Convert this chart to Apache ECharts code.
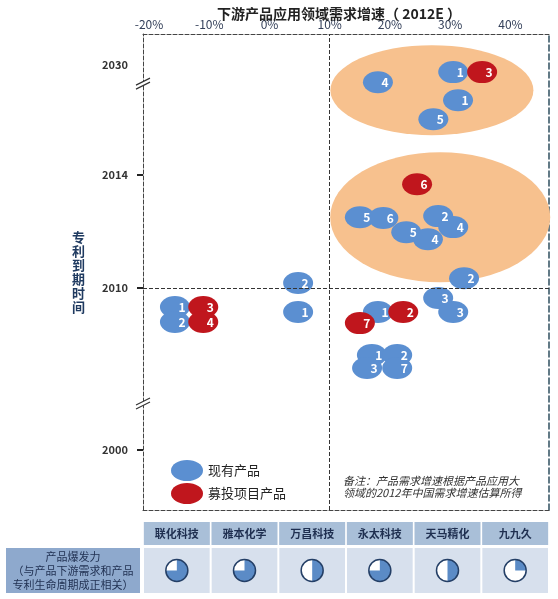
<!DOCTYPE html>
<html><head><meta charset="utf-8">
<script src="https://cdn.jsdelivr.net/npm/echarts@6/dist/echarts.min.js"></script>
<style>html,body{margin:0;padding:0;background:#fff}#c{width:558px;height:599px}</style>
</head><body><div id="c"></div>
<script>
// ---- data ----
const xTickValues = [-20, -10, 0, 10, 20, 30, 40];
const yTickValues = [-5.73, 0, 4, 7.9];           // plot level of each year label
const yTickLabels = ['2000', '2010', '2014', '2030'];
const yBreaks = [7.26, -4.07];
// [demand growth %, patent expiry level, product no.]
const existing = [
  [18.0, 7.29, '4'], [30.5, 7.65, '1'], [31.3, 6.65, '1'], [27.2, 5.98, '5'],
  [15.0, 2.51, '5'], [18.9, 2.48, '6'], [28.0, 2.55, '2'], [30.5, 2.16, '4'],
  [22.7, 1.98, '5'], [26.3, 1.73, '4'], [32.3, 0.35, '2'],
  [4.75, 0.18, '2'], [4.75, -0.85, '1'],
  [-15.7, -0.67, '1'], [-15.7, -1.20, '2'],
  [28.0, -0.35, '3'], [30.5, -0.85, '3'], [18.0, -0.85, '1'],
  [17.0, -2.37, '1'], [21.2, -2.37, '2'], [16.2, -2.83, '3'], [21.2, -2.83, '7']
];
const ipo = [
  [35.3, 7.65, '3'], [24.5, 3.68, '6'], [-11.0, -0.67, '3'], [-11.0, -1.20, '4'],
  [22.2, -0.85, '2'], [15.0, -1.24, '7']
];
const zoneTop = [[26.96, 7.01]];
const zoneBottom = [[28.34, 2.51]];
const companies = ['联化科技', '雅本化学', '万昌科技', '永太科技', '天马精化', '九九久'];
const burstPower = [0.75, 0.75, 0.5, 0.75, 0.5, 0.25];
const rowLabel = ['产品爆发力', '（与产品下游需求和产品', '专利生命周期成正相关）'];

// ---- chart ----
const chart = echarts.init(document.getElementById('c'));
const bubbleLabel = {
  show: true, formatter: p => p.value[2], color: '#fff', fontSize: 12,
  fontWeight: 'bold', offset: [7, 0], position: 'inside'
};
const dashed = c => ({ show: true, onZero: false, lineStyle: { color: c, type: 'dashed', width: 1 } });
const XMIN = -21, XMAX = 46.4, YMIN = -7.86, YMAX = 9.0;
const ELLIPSE = 'path://M50,0A50,50,0,1,1,50,100A50,50,0,1,1,50,0Z';

chart.setOption({
  backgroundColor: '#fff',
  textStyle: { fontFamily: 'Noto Sans CJK SC, Noto Sans, sans-serif' },
  animation: false,
  title: {
    text: '下游产品应用领域需求增速（ 2012E ）', left: 212, top: 2,
    textStyle: { fontSize: 14, fontWeight: 'bold', color: '#222' }
  },
  legend: {
    data: ['现有产品', '募投项目产品'], orient: 'vertical', left: 166, top: 455,
    itemWidth: 32, itemHeight: 21, itemGap: 2, icon: ELLIPSE, symbolKeepAspect: false,
    textStyle: { fontSize: 13, color: '#222' }
  },
  graphic: [{
    type: 'text', left: 343, top: 475,
    style: {
      text: '备注：产品需求增速根据产品应用大\n领域的2012年中国需求增速估算所得',
      fontSize: 11, fontStyle: 'italic', fill: '#333', lineHeight: 12,
      fontFamily: 'Noto Sans CJK SC'
    }
  }],
  grid: [
    { left: 143, right: 9, top: 34, bottom: 89 },
    { left: 143, right: 9, top: 548, bottom: 6 }
  ],
  xAxis: [
    {
      type: 'value', position: 'top', min: XMIN, max: XMAX, gridIndex: 0,
      axisLine: dashed('#444'), axisTick: { show: false }, splitLine: { show: false },
      axisLabel: { customValues: xTickValues, formatter: '{value}%', margin: 4, fontSize: 12, color: '#34405a' }
    },
    {
      type: 'value', position: 'bottom', min: XMIN, max: XMAX, gridIndex: 0,
      axisLine: dashed('#444'), axisTick: { show: false }, splitLine: { show: false },
      axisLabel: { show: false }
    },
    {
      type: 'category', gridIndex: 1, position: 'top', data: companies,
      axisLine: { show: false }, axisTick: { show: false }, splitLine: { show: false },
      axisLabel: {
        margin: 3, fontSize: 11, fontWeight: 'bold', color: '#1f2f50',
        backgroundColor: '#a9bfd8', width: 66, height: 23, lineHeight: 23, align: 'center'
      }
    }
  ],
  yAxis: [
    {
      type: 'value', min: YMIN, max: YMAX, gridIndex: 0,
      name: '专\n利\n到\n期\n时\n间', nameLocation: 'middle', nameGap: 58, nameRotate: 0,
      nameTextStyle: { fontSize: 13, fontWeight: 'bold', color: '#1f3a60', lineHeight: 14, align: 'right', padding: [12, 0, 0, 0] },
      axisLine: dashed('#444'), splitLine: { show: false },
      axisTick: { show: true, customValues: [-5.73, 0, 4], length: 6, lineStyle: { color: '#222', width: 2 } },
      axisLabel: {
        customValues: yTickValues, margin: 15, fontSize: 11, fontWeight: 'bold', color: '#333',
        formatter: v => yTickLabels[yTickValues.indexOf(v)]
      }
    },
    {
      type: 'value', position: 'right', min: YMIN, max: YMAX, gridIndex: 0,
      axisLine: { show: true, onZero: false, lineStyle: { color: '#2f4f5f', type: 'dashed', width: 1.5 } },
      axisTick: { show: false }, axisLabel: { show: false }, splitLine: { show: false }
    },
    {
      type: 'category', gridIndex: 1, data: [rowLabel.join('\n')],
      axisLine: { show: false }, axisTick: { show: false }, splitLine: { show: false },
      axisLabel: {
        margin: 3, backgroundColor: '#8ea9cd', padding: [2, 0, 1, 0],
        formatter: () => rowLabel.map(s => '{t|' + s + '}').join('\n'),
        rich: { t: { width: 134, align: 'center', lineHeight: 14, fontSize: 11, color: '#1f2f50' } }
      }
    }
  ],
  series: [
    {
      type: 'scatter', name: 'zoneTop', data: zoneTop, symbolSize: [203, 90], silent: true, z: 1,
      itemStyle: { color: '#f7c18e', opacity: 1 }, xAxisIndex: 0, yAxisIndex: 0
    },
    {
      type: 'scatter', name: 'zoneBottom', data: zoneBottom, symbolSize: [220, 130], silent: true, z: 1,
      itemStyle: { color: '#f7c18e', opacity: 1 }, xAxisIndex: 0, yAxisIndex: 0
    },
    {
      type: 'scatter', name: '现有产品', data: existing, symbolSize: [30, 22], z: 3,
      itemStyle: { color: '#5b8fd1', opacity: 1 }, label: bubbleLabel, xAxisIndex: 0, yAxisIndex: 0,
      markLine: {
        silent: true, symbol: 'none', label: { show: false },
        lineStyle: { color: '#333', type: 'dashed', width: 1 },
        data: [{ yAxis: 0 }, { xAxis: 10 }]
      }
    },
    {
      type: 'scatter', name: '募投项目产品', data: ipo, symbolSize: [30, 22], z: 4,
      itemStyle: { color: '#c0161d', opacity: 1 }, label: bubbleLabel, xAxisIndex: 0, yAxisIndex: 0
    },
    {
      type: 'custom', name: 'breaks', xAxisIndex: 0, yAxisIndex: 0, z: 5, silent: true,
      data: yBreaks.map(y => [XMIN, y]),
      renderItem: (params, api) => {
        const p = api.coord([api.value(0), api.value(1)]);
        return {
          type: 'group', children: [
            { type: 'polygon', shape: { points: [[p[0] - 7, p[1] + 2], [p[0] + 7, p[1] - 5], [p[0] + 7, p[1] - 1], [p[0] - 7, p[1] + 6]] }, style: { fill: '#fff' } },
            { type: 'line', shape: { x1: p[0] - 7, y1: p[1] + 2, x2: p[0] + 7, y2: p[1] - 5 }, style: { stroke: '#333', lineWidth: 1.2 } },
            { type: 'line', shape: { x1: p[0] - 7, y1: p[1] + 6, x2: p[0] + 7, y2: p[1] - 1 }, style: { stroke: '#333', lineWidth: 1.2 } }
          ]
        };
      }
    },
    {
      type: 'custom', name: 'table', xAxisIndex: 2, yAxisIndex: 2, silent: true,
      data: burstPower.map((f, i) => [i, 0, f]),
      renderItem: (params, api) => {
        const c = api.coord([api.value(0), api.value(1)]);
        const s = api.size([1, 1]);
        const f = api.value(2);
        const r = 11;
        const a0 = -Math.PI / 2;
        return {
          type: 'group', children: [
            { type: 'rect', shape: { x: c[0] - s[0] / 2 + 1, y: c[1] - s[1] / 2, width: s[0] - 2, height: s[1] }, style: { fill: '#d7e0ed' } },
            { type: 'circle', shape: { cx: c[0], cy: c[1], r: r }, style: { fill: '#fff' } },
            { type: 'sector', shape: { cx: c[0], cy: c[1], r0: 0, r: r, startAngle: a0, endAngle: a0 + f * 2 * Math.PI, clockwise: true }, style: { fill: '#5b8bc6' } },
            { type: 'circle', shape: { cx: c[0], cy: c[1], r: r }, style: { fill: 'none', stroke: '#243f66', lineWidth: 1.5 } }
          ]
        };
      }
    }
  ]
});
</script></body></html>
